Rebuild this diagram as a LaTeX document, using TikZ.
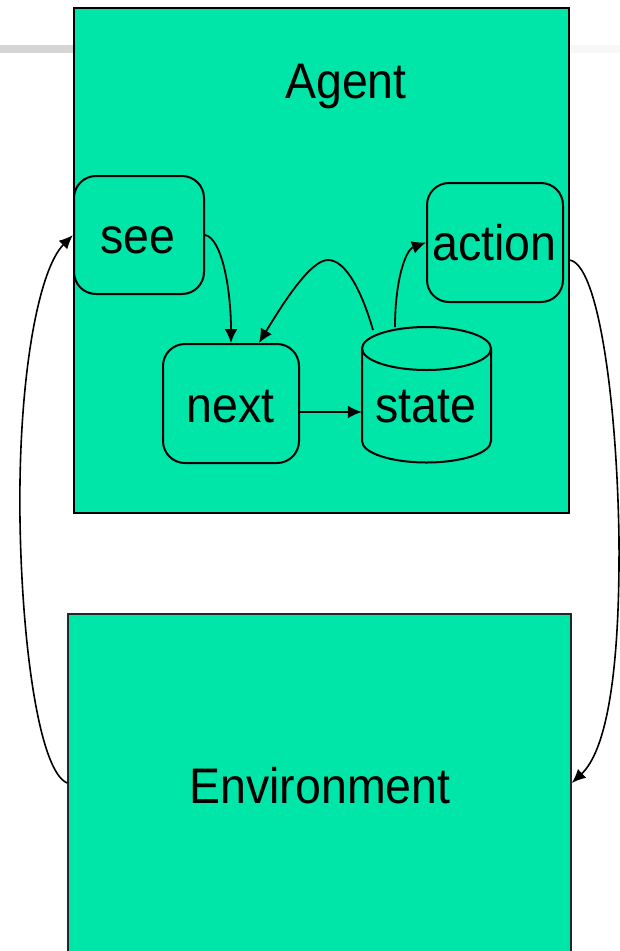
\documentclass[tikz,border=0pt]{standalone}
\usepackage{fontspec}
\newfontfamily\labfont[FakeStretch=0.93]{Liberation Sans}
\usetikzlibrary{arrows.meta}
\definecolor{agfill}{HTML}{00E6A8}
\definecolor{barg}{HTML}{D5D5D5}
\definecolor{barl}{HTML}{F8F8F8}
\begin{document}
\begin{tikzpicture}[x=1pt,y=-1pt,
  box/.style={draw=black, line width=2pt, fill=agfill, rounded corners=22pt, inner sep=0pt},
  big/.style={draw=black, line width=2pt, fill=agfill, inner sep=0pt},
  lab/.style={font=\labfont\fontsize{50}{60}\selectfont, anchor=base, inner sep=0pt},
  conn/.style={line width=1.8pt, -{Latex[length=14pt,width=13pt]}},
  outer/.style={line width=1.6pt, -{Latex[length=14pt,width=12pt]}}]
\useasboundingbox (0,0) rectangle (620,951);
% grey header bar
\fill[barg] (0,45) rectangle (74,53);
\fill[barl] (569,45) rectangle (620,53);
% big boxes
\node[big, minimum width=495pt, minimum height=505pt] (agent) at (321.5,260.5) {};
\node[big, line width=1.5pt, draw=black!85, minimum width=503pt, minimum height=338pt] (env) at (319.5,783) {};
\node[lab] (agenttxt) at (346,98) {Agent};
\node[lab] (envtxt) at (320,803) {Environment};
% inner boxes
\node[box, minimum width=130pt, minimum height=118pt] (see) at (139,235) {};
\node[box, minimum width=136pt, minimum height=119pt] (next) at (231,403.5) {};
\node[box, minimum width=136pt, minimum height=119pt] (action) at (495,242.5) {};
% state cylinder
\node[minimum width=129pt, minimum height=136pt, inner sep=0pt] (state) at (426.5,395) {};
\filldraw[fill=agfill, draw=black, line width=2pt]
  (362,348.5) -- (362,441) arc (180:0:64.5 and 21.5) -- (491,348.5) arc (360:180:64.5 and 21.5) -- cycle;
\draw[line width=2pt] (362,348.5) arc (180:0:64.5 and 21.5);
% labels
\node[lab] (seetxt) at (138,253) {see};
\node[lab] (nexttxt) at (230.5,422) {next};
\node[lab] (actiontxt) at (494.5,260) {action};
\node[lab] (statetxt) at (425.5,422) {state};
% coordinates on the cylinder top
\coordinate (st1) at (373,330);
\coordinate (st2) at (395,327);
% connectors
\draw[conn] (see.east) .. controls (222,238) and (231,290) .. (next.north);
\draw[conn] ([yshift=-8.5pt]next.east) -- ([yshift=-17pt]state.west);
\draw[line width=1.8pt] (st1) .. controls (362,292) and (346,260) .. (328,260);
\draw[conn] (328,260) .. controls (311,260) and (285,300) .. ([xshift=28pt]next.north);
\draw[conn] (st2) .. controls (395,282) and (405,250) .. (action.west);
\draw[outer] ([xshift=5pt,yshift=-17.5pt]action.east) .. controls (598,262) and (617,400) .. (619,540)
  .. controls (620,680) and (605,752) .. (env.east);
\draw[outer] (env.west) .. controls (40,772) and (22,650) .. (20,520)
  .. controls (18,380) and (38,270) .. (see.west);
\end{tikzpicture}
\end{document}
